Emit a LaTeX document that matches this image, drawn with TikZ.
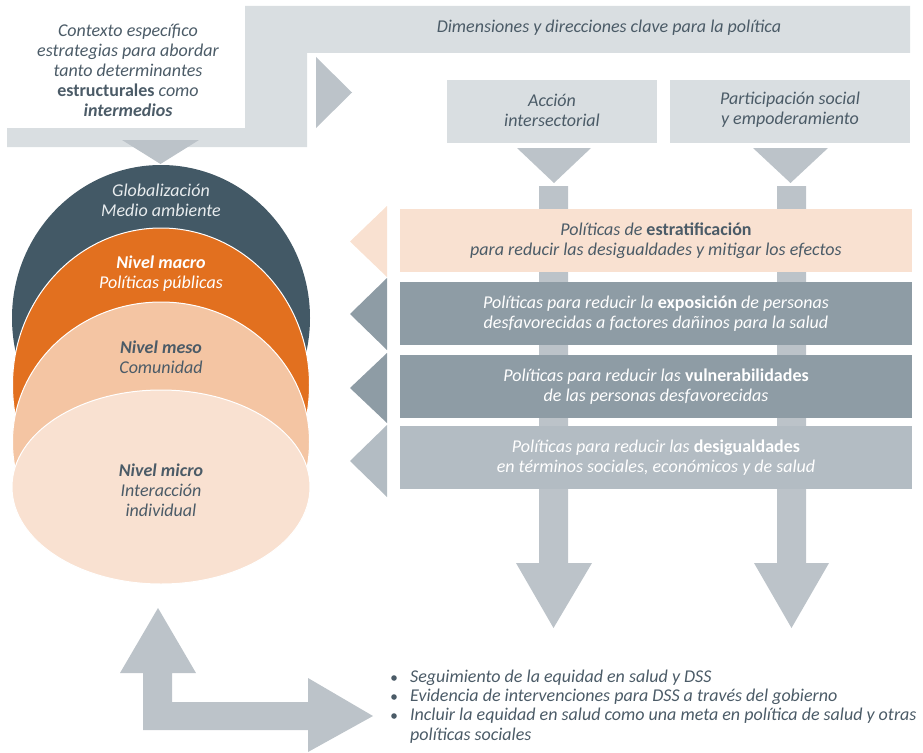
\documentclass[tikz,border=0pt]{standalone}
\usepackage{fontspec}
\setmainfont{Carlito}
\definecolor{band}{HTML}{D9DEE1}
\definecolor{midgray}{HTML}{BCC3C9}
\definecolor{slate}{HTML}{435966}
\definecolor{orng}{HTML}{E2701F}
\definecolor{peachmid}{HTML}{F4C5A3}
\definecolor{peachlt}{HTML}{F9E1D1}
\definecolor{boxdark}{HTML}{8E9CA5}
\definecolor{boxlt}{HTML}{B3BCC3}
\definecolor{txt}{HTML}{4B5B67}
\definecolor{txtlt}{HTML}{E8ECEE}
\begin{document}
\begin{tikzpicture}[x=1pt,y=-1pt,
  lbl/.style={font=\fontsize{18}{20}\selectfont\itshape, align=center, text=txt, inner sep=0pt},
  polbox/.style={minimum width=512pt, minimum height=63pt, inner sep=0pt, font=\fontsize{18}{20}\selectfont\itshape, align=center},
  layer/.style={draw=white, line width=1pt},
  blt/.style={font=\fontsize{18}{19}\selectfont\itshape, text=txt, anchor=west, inner sep=0pt}]
\useasboundingbox (0,0) rectangle (923,752);
% top L band
\fill[band] (7,128) -- (245,128) -- (245,6) -- (910,6) -- (910,53) -- (307,53) -- (307,147) -- (7,147) -- cycle;
% triangles
\fill[midgray] (122,140) -- (199,140) -- (160.5,164) -- cycle;
\fill[midgray] (316,57) -- (316,128) -- (352,92.5) -- cycle;
% header boxes
\fill[band] (447,80) rectangle (657,143);
\fill[band] (670,80) rectangle (910,143);
\fill[midgray] (517,148) -- (591,148) -- (554,183) -- cycle;
\fill[midgray] (753,148) -- (828,148) -- (790.5,183) -- cycle;
% down arrows
\fill[midgray] (539,186) -- (568,186) -- (568,563) -- (592,563) -- (553.5,628) -- (516,563) -- (539,563) -- cycle;
\fill[midgray] (777,186) -- (806,186) -- (806,563) -- (829,563) -- (791.5,628) -- (754,563) -- (777,563) -- cycle;
% left triangles
\fill[peachlt] (387,206) -- (387,277) -- (350,241.5) -- cycle;
\fill[boxdark] (387,278) -- (387,350) -- (350,314) -- cycle;
\fill[boxdark] (387,353) -- (387,423) -- (350,388) -- cycle;
\fill[boxlt] (387,425) -- (387,497) -- (350,461) -- cycle;
% policy boxes
\node[polbox, fill=peachlt, text=txt] (p1) at (656,240.5) {Políticas de \textbf{\upshape estratificación}\\para reducir las desigualdades y mitigar los efectos};
\node[polbox, fill=boxdark, text=white] (p2) at (656,313.5) {Políticas para reducir la \textbf{\upshape exposición} de personas\\desfavorecidas a factores dañinos para la salud};
\node[polbox, fill=boxdark, text=white] (p3) at (656,386.5) {Políticas para reducir las \textbf{\upshape vulnerabilidades}\\de las personas desfavorecidas};
\node[polbox, fill=boxlt, text=white] (p4) at (656,457.5) {Políticas para reducir las \textbf{\upshape desigualdades}\\en términos sociales, económicos y de salud};
% layered ellipses
\fill[slate] (161,318) ellipse [x radius=149, y radius=153];
\filldraw[orng, layer] (161,385) ellipse [x radius=148.5, y radius=157];
\filldraw[peachmid, layer] (161,442) ellipse [x radius=148.5, y radius=140];
\filldraw[peachlt, layer] (161,487) ellipse [x radius=149, y radius=97];
% texts
\node[lbl] (ctx) at (128,70) {Contexto específico\\estrategias para abordar\\tanto determinantes\\\textbf{\upshape estructurales} como\\\textbf{intermedios}};
\node[lbl] (dim) at (609,28) {Dimensiones y direcciones clave para la política};
\node[lbl] (acc) at (552,110) {Acción\\intersectorial};
\node[lbl] (par) at (790,110) {Participación social\\y empoderamiento};
\node[lbl, text=txtlt] (glob) at (161,200) {Globalización\\Medio ambiente};
\node[lbl, text=white] (macro) at (161,274) {\textbf{Nivel macro}\\Políticas públicas};
\node[lbl] (meso) at (161,357) {\textbf{Nivel meso}\\Comunidad};
\node[lbl] (micro) at (161,490) {\textbf{Nivel micro}\\Interacción\\individual};
% bottom L arrow
\fill[midgray] (143,730) -- (143,673) -- (120,673) -- (158,608) -- (196,673) -- (172,673) -- (172,702) -- (308,702) -- (308,678) -- (373,716) -- (308,752) -- (308,730) -- cycle;
% bullets
\foreach \yy in {678,697,716} \fill[txt] (394,\yy) circle (2.8);
\node[blt] (b1) at (410,678) {Seguimiento de la equidad en salud y DSS};
\node[blt] (b2) at (410,697) {Evidencia de intervenciones para DSS a través del gobierno};
\node[blt] (b3) at (410,716) {Incluir la equidad en salud como una meta en política de salud y otras};
\node[blt] (b4) at (410,736) {políticas sociales};
\end{tikzpicture}
\end{document}
